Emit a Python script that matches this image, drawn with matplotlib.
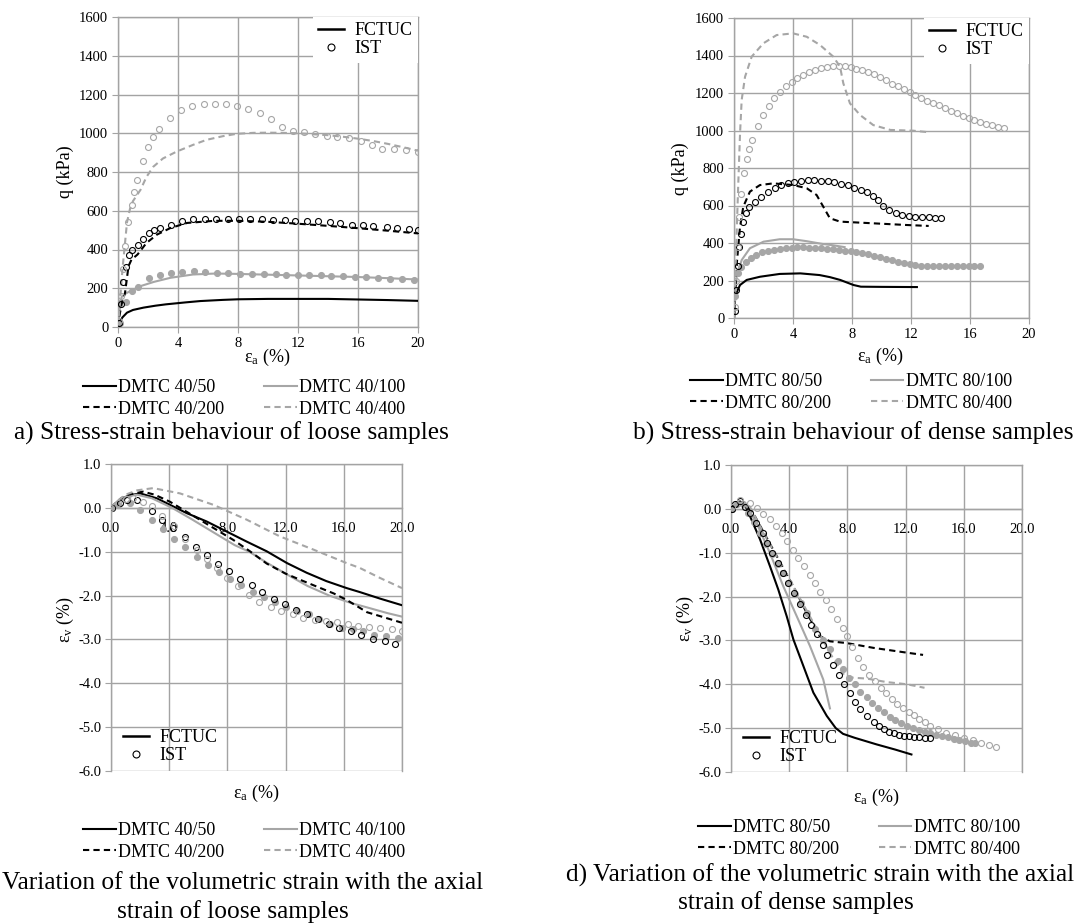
import matplotlib
matplotlib.use("Agg")
import matplotlib.pyplot as plt
from matplotlib.lines import Line2D
from matplotlib.ticker import FormatStrFormatter

plt.rcParams["font.family"] = ["Liberation Serif", "DejaVu Serif"]
plt.rcParams["mathtext.fontset"] = "custom"
plt.rcParams["mathtext.rm"] = "Liberation Serif"
plt.rcParams["mathtext.it"] = "Liberation Serif:italic"
plt.rcParams["axes.unicode_minus"] = False

# ---- a) loose samples, q vs axial strain ----
a_x50 = [0, 0.1, 0.3, 0.6, 1.0, 1.7, 2.5, 3.2, 4.5, 5.5, 7, 8, 10, 12, 14, 16, 18, 20]
a_q50 = [0, 25, 50, 74, 88, 100, 110, 117, 127, 134, 140, 143, 145, 145, 145, 142, 139, 135]
a_x100 = [0, 0.1, 0.24, 0.5, 0.8, 1.5, 2.4, 3.5, 5.0, 6.5, 8, 10, 12, 14, 16, 18, 20]
a_q100 = [0, 80, 155, 172, 185, 211, 233, 254, 271, 276, 274, 270, 266, 262, 258, 252, 245]
a_x200 = [0, 0.1, 0.25, 0.47, 0.7, 0.9, 1.3, 1.9, 2.6, 3.5, 4.6, 6.4, 8, 10, 12, 14, 16, 18, 20]
a_q200 = [0, 60, 120, 177, 314, 348, 374, 434, 477, 511, 537, 548, 548, 543, 533, 522, 510, 497, 483]
a_x400 = [0, 0.1, 0.2, 0.3, 0.45, 0.6, 0.8, 1.0, 1.5, 1.9, 2.35, 3.0, 3.9, 5.0, 5.9, 7.0, 7.9,
          9, 10, 11, 12, 13, 14, 15, 16, 17, 18, 19, 20]
a_q400 = [0, 100, 200, 300, 420, 540, 610, 650, 708, 775, 827, 870, 905, 940, 966, 985, 997,
          1002, 1003, 1002, 1000, 995, 990, 982, 972, 960, 945, 928, 910]

a_ist100_x = [0.1, 0.5, 0.91, 1.31, 2.07, 2.8, 3.56, 4.29, 5.05, 5.8, 6.58, 7.33, 8.13, 8.9, 9.7,
              10.5, 11.2, 12.0, 12.7, 13.5, 14.2, 15.0, 15.8, 16.5, 17.3, 18.1, 18.9, 19.7]
a_ist100_q = [20, 130, 185, 207, 252, 266, 280, 285, 288, 283, 280, 280, 276, 276, 274,
              271, 269, 269, 266, 266, 262, 262, 258, 258, 254, 250, 247, 244]
a_ist200_x = [0.05, 0.2, 0.35, 0.5, 0.7, 0.91, 1.31, 1.69, 2.07, 2.4, 2.78, 3.56, 4.29, 5.02,
              5.78, 6.56, 7.3, 8.07, 8.8, 9.58, 10.3, 11.1, 11.8, 12.6, 13.3, 14.1, 14.8, 15.6,
              16.3, 17.0, 17.9, 18.6, 19.4, 20.0]
a_ist200_q = [20, 120, 230, 310, 370, 400, 425, 455, 486, 499, 509, 528, 549, 558,
              560, 560, 560, 558, 558, 558, 554, 551, 549, 546, 546, 543, 537, 528,
              524, 520, 516, 511, 507, 503]
a_ist400_x = [0.05, 0.2, 0.35, 0.47, 0.69, 0.9, 1.07, 1.24, 1.64, 1.98, 2.36, 2.76, 3.49, 4.22,
              4.96, 5.71, 6.47, 7.2, 7.93, 8.69, 9.45, 10.18, 10.9, 11.67, 12.4, 13.15, 13.9,
              14.6, 15.4, 16.2, 16.95, 17.6, 18.4, 19.2, 20.0]
a_ist400_q = [30, 160, 300, 417, 540, 628, 697, 760, 858, 929, 980, 1023, 1080, 1120,
              1141, 1151, 1153, 1151, 1141, 1127, 1107, 1076, 1030, 1014, 1006, 997, 988,
              983, 976, 962, 939, 921, 918, 912, 905]

# ---- b) dense samples, q vs axial strain ----
b_x50 = [0, 0.07, 0.2, 0.41, 0.86, 1.76, 3.1, 4.5, 5.8, 6.5, 7.2, 8.1, 8.6, 10, 12.4]
b_q50 = [0, 96, 140, 176, 203, 220, 235, 238, 229, 218, 203, 176, 167, 166, 165]
b_x100 = [0, 0.1, 0.18, 0.52, 1.08, 2.0, 3.1, 4.0, 4.9, 6.0, 6.7, 7.5]
b_q100 = [0, 130, 220, 309, 372, 407, 420, 420, 410, 395, 388, 378]
b_x200 = [0, 0.1, 0.2, 0.4, 0.63, 1.08, 1.76, 2.66, 4.02, 4.93, 5.6, 6.05, 6.5, 7.19, 9.44, 11.7, 13.2]
b_q200 = [0, 150, 300, 480, 594, 674, 709, 718, 709, 692, 656, 594, 532, 514, 505, 496, 491]
b_x400 = [0, 0.1, 0.18, 0.29, 0.41, 0.52, 0.75, 1.2, 1.99, 2.89, 4.0, 4.93, 5.83, 6.73, 7.19,
          7.41, 7.86, 8.54, 9.44, 10.6, 12.15, 13.3]
b_q400 = [0, 250, 452, 718, 985, 1163, 1287, 1394, 1465, 1509, 1518, 1500, 1456, 1394, 1340,
          1252, 1145, 1083, 1029, 1003, 999, 990]

b_ist100_x = [0.05, 0.25, 0.5, 0.8, 1.15, 1.5, 1.9, 2.3, 2.7, 3.1, 3.5, 3.9, 4.3, 4.7, 5.1, 5.5,
              5.9, 6.3, 6.7, 7.1, 7.5, 7.9, 8.3, 8.7, 9.1, 9.5, 9.9, 10.3, 10.7, 11.1, 11.5,
              11.9, 12.3, 12.7, 13.1, 13.5, 13.9, 14.3, 14.7, 15.1, 15.5, 15.9, 16.3, 16.7]
b_ist100_q = [120, 238, 274, 300, 320, 336, 350, 358, 365, 370, 374, 376, 377, 377, 376, 374,
              372, 370, 368, 364, 360, 356, 351, 346, 340, 333, 325, 317, 308, 299, 292,
              286, 281, 279, 278, 277, 277, 277, 276, 276, 276, 276, 276, 276]
b_ist200_x = [0.05, 0.15, 0.25, 0.35, 0.45, 0.6, 0.8, 1.0, 1.4, 1.85, 2.3, 2.75, 3.2, 3.65, 4.1,
              4.55, 5.0, 5.45, 5.9, 6.35, 6.8, 7.25, 7.7, 8.15, 8.6, 9.05, 9.45, 9.75, 10.1,
              10.5, 10.95, 11.4, 11.85, 12.3, 12.75, 13.2, 13.65, 14.0]
b_ist200_q = [40, 150, 280, 380, 450, 510, 560, 594, 620, 647, 672, 694, 710, 721, 728,
              732, 734, 734, 733, 730, 724, 717, 707, 696, 684, 670, 652, 630, 598,
              575, 560, 551, 545, 541, 539, 537, 536, 535]
b_ist400_x = [0.05, 0.15, 0.25, 0.36, 0.5, 0.68, 0.86, 1.04, 1.22, 1.6, 1.99, 2.37, 2.73, 3.12,
              3.5, 3.9, 4.3, 4.7, 5.1, 5.5, 5.9, 6.3, 6.7, 7.1, 7.5, 7.9, 8.3, 8.7, 9.1, 9.5,
              9.9, 10.3, 10.7, 11.1, 11.5, 11.9, 12.3, 12.7, 13.1, 13.5, 13.9, 14.3, 14.7,
              15.1, 15.5, 15.9, 16.3, 16.7, 17.1, 17.5, 17.9, 18.3]
b_ist400_q = [60, 200, 380, 540, 660, 772, 846, 900, 949, 1024, 1083, 1131, 1172, 1207,
              1237, 1260, 1282, 1296, 1310, 1322, 1332, 1340, 1345, 1345, 1342, 1337, 1330,
              1323, 1313, 1300, 1285, 1268, 1250, 1235, 1220, 1207, 1190, 1175, 1160, 1146,
              1134, 1120, 1106, 1093, 1080, 1068, 1056, 1045, 1036, 1028, 1021, 1016]

# ---- c) loose samples, volumetric vs axial strain ----
c_x50 = [0, 0.3, 0.7, 1.2, 2.0, 3.13, 4.05, 5.2, 6.57, 7.95, 9.33, 10.7, 12.1, 13.45, 14.8,
         16.2, 17.1, 18.5, 20]
c_v50 = [0, 0.1, 0.2, 0.28, 0.33, 0.22, 0.07, -0.12, -0.31, -0.54, -0.77, -0.99, -1.26,
         -1.48, -1.67, -1.83, -1.92, -2.07, -2.22]
c_x100 = [0, 0.3, 0.7, 1.2, 1.8, 2.8, 4.2, 5.5, 7, 8.5, 9.5, 10.7, 12, 13.5, 15, 16.5, 17.6, 19, 20]
c_v100 = [0, 0.1, 0.2, 0.27, 0.3, 0.22, 0.0, -0.25, -0.55, -0.85, -1.0, -1.25, -1.5, -1.78,
          -2.0, -2.17, -2.27, -2.4, -2.48]
c_x200 = [0, 0.3, 0.7, 1.2, 2.2, 3.0, 4.05, 6.1, 8.4, 9.55, 10.7, 12, 13, 14.4, 15.3, 16.2,
          17.1, 17.6, 19, 20]
c_v200 = [0, 0.1, 0.22, 0.3, 0.37, 0.3, 0.14, -0.27, -0.73, -0.99, -1.27, -1.5, -1.64, -1.83,
          -1.95, -2.1, -2.28, -2.38, -2.52, -2.62]
c_x400 = [0, 0.4, 1.0, 1.8, 2.9, 4.74, 7.03, 9.33, 11.6, 13.9, 16.2, 17.1, 18.5, 20]
c_v400 = [0, 0.15, 0.3, 0.4, 0.45, 0.33, 0.07, -0.27, -0.65, -0.95, -1.26, -1.37, -1.6, -1.83]

c_ist100_x = [0.05, 0.5, 1.3, 2.0, 2.8, 3.55, 4.33, 5.1, 5.9, 6.67, 7.42, 8.18, 8.96, 9.74,
              10.5, 11.3, 12.0, 12.8, 13.6, 14.3, 15.05, 15.85, 16.6, 17.3, 18.1, 18.9, 19.7]
c_ist100_v = [0, 0.06, 0.1, -0.06, -0.27, -0.48, -0.70, -0.90, -1.11, -1.30, -1.46, -1.62,
              -1.77, -1.92, -2.04, -2.15, -2.26, -2.36, -2.43, -2.53, -2.64, -2.73, -2.77,
              -2.81, -2.89, -2.93, -2.96]
c_ist200_x = [0.1, 0.6, 1.1, 1.77, 2.8, 3.53, 4.29, 5.09, 5.84, 6.62, 7.38, 8.13, 8.9, 9.67,
              10.4, 11.2, 11.96, 12.7, 13.5, 14.25, 15.0, 15.7, 16.5, 17.2, 18.0, 18.8, 19.5]
c_ist200_v = [0, 0.1, 0.17, 0.18, -0.08, -0.27, -0.46, -0.67, -0.89, -1.08, -1.27, -1.45,
              -1.62, -1.77, -1.92, -2.07, -2.19, -2.32, -2.43, -2.53, -2.64, -2.73, -2.81,
              -2.89, -2.98, -3.04, -3.10]
c_ist400_x = [0, 0.5, 1.0, 1.5, 2.2, 2.8, 3.5, 4.3, 5.1, 5.9, 6.6, 7.3, 8.0, 8.75, 9.5, 10.2,
              11.0, 11.7, 12.5, 13.2, 14.0, 14.8, 15.5, 16.3, 17.0, 17.75, 18.5, 19.3, 20.0]
c_ist400_v = [0, 0.1, 0.2, 0.22, 0.14, 0.05, -0.18, -0.42, -0.7, -0.95, -1.17, -1.37, -1.6,
              -1.79, -1.98, -2.15, -2.26, -2.36, -2.42, -2.51, -2.55, -2.58, -2.61, -2.64,
              -2.70, -2.72, -2.74, -2.76, -2.8]

# ---- d) dense samples, volumetric vs axial strain ----
d_x50 = [0, 0.16, 0.62, 0.96, 1.31, 2.0, 2.68, 3.25, 3.83, 4.29, 4.97, 5.66, 6.58, 7.2, 7.7,
         8.5, 10, 11.3, 12.4]
d_v50 = [0, 0.05, 0.17, 0.09, -0.17, -0.70, -1.31, -1.84, -2.45, -2.98, -3.58, -4.19, -4.72,
         -5.0, -5.13, -5.22, -5.37, -5.49, -5.6]
d_x100 = [0, 0.3, 0.7, 1.08, 1.77, 2.68, 3.6, 4.52, 5.43, 6.34, 6.8]
d_v100 = [0, 0.08, 0.15, 0.05, -0.33, -1.01, -1.77, -2.45, -3.13, -3.89, -4.55]
d_x200 = [0, 0.3, 0.7, 1.0, 1.53, 2.9, 4.29, 5.2, 6.1, 6.8, 7.95, 9.8, 12.1, 13.2]
d_v200 = [0, 0.08, 0.15, 0.08, -0.1, -0.93, -1.77, -2.37, -2.90, -3.02, -3.06, -3.17, -3.28, -3.33]
d_x400 = [0, 0.4, 0.8, 1.3, 2.0, 3.0, 4.0, 5.0, 6.0, 7.0, 7.8, 8.4, 9.33, 10.7, 12.1, 13.3]
d_v400 = [0, 0.1, 0.15, 0.05, -0.4, -1.0, -1.6, -2.2, -2.8, -3.4, -3.8, -3.85, -3.87, -3.95,
          -4.0, -4.08]

d_ist100_x = [0.05, 0.4, 0.8, 1.2, 1.6, 2.0, 2.4, 2.8, 3.2, 3.6, 4.0, 4.4, 4.8, 5.2, 5.77, 6.3,
              6.8, 7.33, 7.73, 8.14, 8.52, 8.9, 9.33, 9.71, 10.1, 10.5, 10.9, 11.3, 11.7, 12.1,
              12.5, 12.9, 13.3, 13.7, 14.1, 14.5, 14.9, 15.3, 15.7, 16.1, 16.5, 16.8]
d_ist100_v = [0, 0.12, 0.1, -0.1, -0.3, -0.55, -0.8, -1.02, -1.25, -1.47, -1.7, -1.93, -2.15,
              -2.37, -2.73, -2.98, -3.2, -3.47, -3.66, -3.85, -4.0, -4.17, -4.30, -4.43,
              -4.55, -4.64, -4.74, -4.81, -4.88, -4.94, -4.99, -5.04, -5.08, -5.11, -5.15,
              -5.18, -5.21, -5.24, -5.27, -5.30, -5.33, -5.35]
d_ist200_x = [0.05, 0.3, 0.6, 0.97, 1.3, 1.7, 2.18, 2.45, 2.84, 3.2, 3.6, 3.95, 4.33, 4.74,
              5.13, 5.5, 5.89, 6.3, 6.62, 7.03, 7.42, 7.77, 8.18, 8.52, 8.9, 9.33, 9.8, 10.15,
              10.5, 10.85, 11.2, 11.55, 11.9, 12.25, 12.6, 12.95, 13.3, 13.65]
d_ist200_v = [0, 0.1, 0.17, 0.05, -0.1, -0.33, -0.54, -0.77, -1.01, -1.24, -1.46, -1.69,
              -1.92, -2.16, -2.41, -2.64, -2.86, -3.11, -3.34, -3.57, -3.78, -4.0, -4.2,
              -4.4, -4.57, -4.72, -4.86, -4.96, -5.03, -5.08, -5.12, -5.15, -5.17, -5.19,
              -5.2, -5.21, -5.22, -5.22]
d_ist400_x = [0.1, 0.6, 1.31, 1.8, 2.22, 2.68, 3.1, 3.5, 3.85, 4.24, 4.6, 4.99, 5.4, 5.76,
              6.15, 6.54, 6.9, 7.3, 7.67, 8.0, 8.34, 8.76, 9.1, 9.5, 9.9, 10.3, 10.65, 11.05,
              11.4, 11.8, 12.2, 12.6, 12.9, 13.3, 13.7, 14.2, 14.8, 15.4, 16.0, 16.6, 17.2,
              17.7, 18.2]
d_ist400_v = [0.05, 0.2, 0.13, 0.02, -0.11, -0.23, -0.38, -0.55, -0.74, -0.93, -1.12, -1.31,
              -1.5, -1.70, -1.90, -2.08, -2.29, -2.5, -2.71, -2.9, -3.15, -3.4, -3.6, -3.79,
              -3.92, -4.08, -4.21, -4.34, -4.44, -4.53, -4.63, -4.70, -4.80, -4.87, -4.95,
              -5.02, -5.1, -5.16, -5.22, -5.28, -5.33, -5.38, -5.43]

GREY = "#a6a6a6"
GRID = "#a3a3a3"
DASH = (0, (3, 2))
W, H = 1088, 924


def box(l, t, r, b):
    # pixel box -> figure fraction
    return [l / W, 1 - b / H, (r - l) / W, (b - t) / H]


def fct(ax, x, y, color, dashed=False):
    ax.plot(x, y, color=color, lw=1.5, ls=DASH if dashed else "-", zorder=3)


def ist(ax, x, y, color, filled=False):
    ax.plot(x, y, ls="none", marker="o", ms=4.3, mew=0.8, mec=color,
            mfc=color if filled else "none", zorder=4)


def style(ax):
    ax.grid(True, color=GRID, lw=1.0)
    ax.set_axisbelow(True)
    for s in ax.spines.values():
        s.set_color(GRID)
        s.set_linewidth(1.0)
    ax.tick_params(direction="out", length=4, color=GRID, labelsize=10.5, pad=3)
    ax.set_xlim(0, 20)
    ax.set_xticks(range(0, 21, 4))


def txt(x, y, s, size, **kw):
    fig.text(x / W, 1 - y / H, s, fontsize=size, ha=kw.pop("ha", "center"),
             va=kw.pop("va", "center"), **kw)


fig = plt.figure(figsize=(W / 100, H / 100), dpi=100)
ax_a = fig.add_axes(box(118, 17, 418, 327))
ax_b = fig.add_axes(box(734, 18, 1029, 318))
ax_c = fig.add_axes(box(111, 464, 402, 771))
ax_d = fig.add_axes(box(731, 465, 1022, 772))

for ax in (ax_a, ax_b):
    style(ax)
    ax.set_ylim(0, 1600)
    ax.set_yticks(range(0, 1601, 200))

for ax in (ax_c, ax_d):
    style(ax)
    ax.set_ylim(-6, 1)
    ax.set_yticks(range(-6, 2))
    ax.spines["bottom"].set_position(("data", 0))
    ax.xaxis.set_major_formatter(FormatStrFormatter("%.1f"))
    ax.yaxis.set_major_formatter(FormatStrFormatter("%.1f"))
    ax.tick_params(axis="x", length=0, pad=10)

# a
fct(ax_a, a_x50, a_q50, "black")
fct(ax_a, a_x100, a_q100, GREY)
fct(ax_a, a_x200, a_q200, "black", True)
fct(ax_a, a_x400, a_q400, GREY, True)
ist(ax_a, a_ist100_x, a_ist100_q, GREY, True)
ist(ax_a, a_ist200_x, a_ist200_q, "black")
ist(ax_a, a_ist400_x, a_ist400_q, GREY)

# b
fct(ax_b, b_x50, b_q50, "black")
fct(ax_b, b_x100, b_q100, GREY)
fct(ax_b, b_x200, b_q200, "black", True)
fct(ax_b, b_x400, b_q400, GREY, True)
ist(ax_b, b_ist100_x, b_ist100_q, GREY, True)
ist(ax_b, b_ist200_x, b_ist200_q, "black")
ist(ax_b, b_ist400_x, b_ist400_q, GREY)

# c
fct(ax_c, c_x50, c_v50, "black")
fct(ax_c, c_x100, c_v100, GREY)
fct(ax_c, c_x200, c_v200, "black", True)
fct(ax_c, c_x400, c_v400, GREY, True)
ist(ax_c, c_ist100_x, c_ist100_v, GREY, True)
ist(ax_c, c_ist200_x, c_ist200_v, "black")
ist(ax_c, c_ist400_x, c_ist400_v, GREY)

# d
fct(ax_d, d_x50, d_v50, "black")
fct(ax_d, d_x100, d_v100, GREY)
fct(ax_d, d_x200, d_v200, "black", True)
fct(ax_d, d_x400, d_v400, GREY, True)
ist(ax_d, d_ist100_x, d_ist100_v, GREY, True)
ist(ax_d, d_ist200_x, d_ist200_v, "black")
ist(ax_d, d_ist400_x, d_ist400_v, GREY)

# source legends
src = [Line2D([], [], color="black", lw=1.8),
       Line2D([], [], ls="none", marker="o", ms=5, mew=0.8, mec="black", mfc="none")]
src_lab = ["FCTUC", "IST"]
for ax in (ax_a, ax_b):
    ax.legend(src, src_lab, loc="upper right", bbox_to_anchor=(1, 1), borderaxespad=0,
              frameon=True, fancybox=False, edgecolor="none", facecolor="white",
              framealpha=1, fontsize=13, handlelength=1.4, handletextpad=0.6,
              labelspacing=0.05, borderpad=0.3)
for ax in (ax_c, ax_d):
    ax.legend(src, src_lab, loc="lower left", bbox_to_anchor=(0.03, 0.01), borderaxespad=0,
              frameon=False, fontsize=13, handlelength=1.4, handletextpad=0.6,
              labelspacing=0.05, borderpad=0.2)

# test legends below each panel
tests = {"a": "40", "b": "80", "c": "40", "d": "80"}
leg_pos = {"a": (83, 379), "b": (690, 373), "c": (83, 822), "d": (698, 819)}
for key, d in tests.items():
    hs = [Line2D([], [], color="black", lw=1.5),
          Line2D([], [], color="black", lw=1.5, ls=DASH),
          Line2D([], [], color=GREY, lw=1.5),
          Line2D([], [], color=GREY, lw=1.5, ls=DASH)]
    labs = ["DMTC %s/50" % d, "DMTC %s/200" % d, "DMTC %s/100" % d, "DMTC %s/400" % d]
    x0, y0 = leg_pos[key]
    fig.legend(hs, labs, loc="upper left", bbox_to_anchor=(x0 / W, 1 - y0 / H), ncol=2,
               frameon=False, fontsize=13, handlelength=1.8, handletextpad=0.15,
               columnspacing=2.2, labelspacing=0.25, borderpad=0, borderaxespad=0)

# axis labels
txt(65, 172, "q (kPa)", 13, rotation=90)
txt(680, 169, "q (kPa)", 13, rotation=90)
txt(65, 619, r"ε$_\mathrm{v}$ (%)", 13, rotation=90)
txt(685, 618, r"ε$_\mathrm{v}$ (%)", 13, rotation=90)
txt(267, 357, r"ε$_\mathrm{a}$ (%)", 13)
txt(880, 356, r"ε$_\mathrm{a}$ (%)", 13)
txt(256, 793, r"ε$_\mathrm{a}$ (%)", 13)
txt(876, 797, r"ε$_\mathrm{a}$ (%)", 13)

# captions
txt(231, 433, "a) Stress-strain behaviour of loose samples", 18.3)
txt(853, 433, "b) Stress-strain behaviour of dense samples", 18.3)
txt(2, 883, "Variation of the volumetric strain with the axial", 18.3, ha="left")
txt(233, 912, "strain of loose samples", 18.3)
txt(566, 875, "d) Variation of the volumetric strain with the axial", 18.3, ha="left")
txt(796, 903, "strain of dense samples", 18.3)

fig.savefig("out.png", dpi=100, facecolor="white")
